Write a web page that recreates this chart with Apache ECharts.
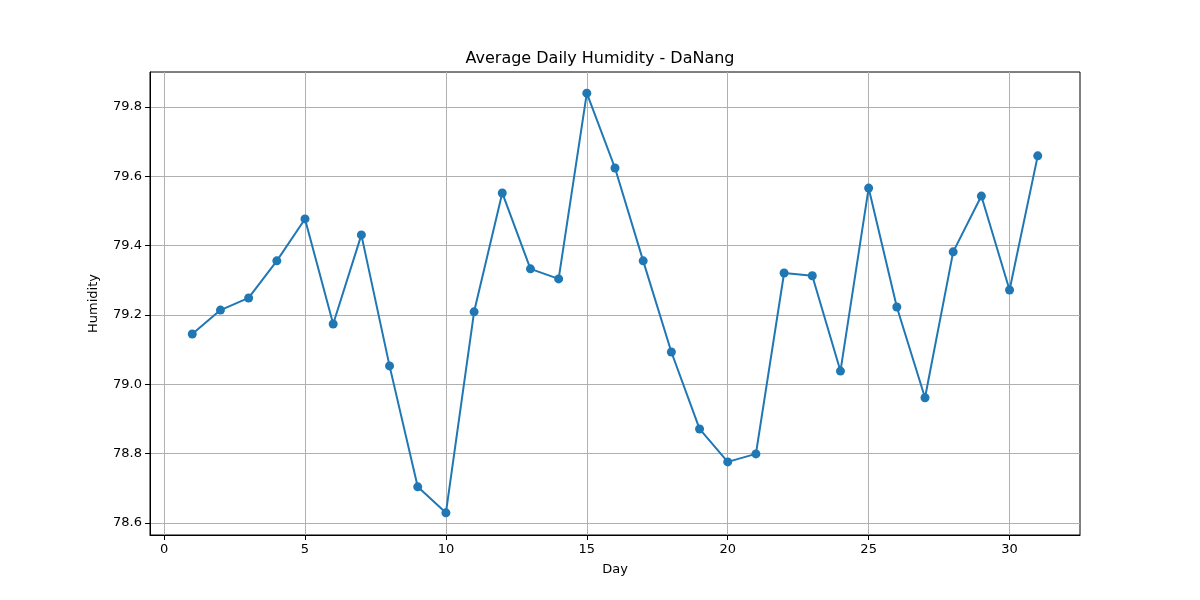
<!DOCTYPE html>
<html>
<head>
<meta charset="utf-8">
<script src="https://cdn.jsdelivr.net/npm/echarts@6/dist/echarts.min.js"></script>
<style>html,body{margin:0;padding:0;background:#fff}#main{width:1200px;height:600px}</style>
</head>
<body>
<div id="main"></div>
<script>
// day of month and average humidity
var days = [];
for (var d = 1; d <= 31; d++) days.push(d);
var humidity = [79.145, 79.214, 79.249, 79.356, 79.477, 79.174, 79.431, 79.053, 78.704, 78.629,
    79.209, 79.552, 79.333, 79.304, 79.840, 79.624, 79.356, 79.093, 78.871, 78.776,
    78.799, 79.321, 79.313, 79.038, 79.566, 79.223, 78.961, 79.382, 79.543, 79.272, 79.659];
var xTicks = [0, 5, 10, 15, 20, 25, 30];
var yTicks = [78.6, 78.8, 79.0, 79.2, 79.4, 79.6, 79.8];

var chart = echarts.init(document.getElementById('main'));
var font = 'DejaVu Sans';
var points = days.map(function (d, i) { return [d, humidity[i]]; });

chart.setOption({
    animation: false,
    title: {
        text: 'Average Daily Humidity - DaNang', left: 'center', top: 46,
        textStyle: { fontFamily: font, fontSize: 16, fontWeight: 'normal', color: '#000' }
    },
    grid: { left: 150, right: 120, top: 72, bottom: 65, show: true, borderColor: '#000', borderWidth: 1 },
    xAxis: {
        type: 'value', min: -0.5, max: 32.5,
        name: 'Day', nameLocation: 'middle', nameGap: 28,
        nameTextStyle: { fontFamily: font, fontSize: 13, color: '#000' },
        axisLine: { onZero: false, lineStyle: { color: '#000' } },
        axisTick: { show: true, customValues: xTicks, lineStyle: { color: '#000' } },
        axisLabel: { customValues: xTicks, fontFamily: font, fontSize: 13, color: '#000' },
        splitLine: { show: true, lineStyle: { color: '#b0b0b0' } }
    },
    yAxis: {
        type: 'value', min: 78.565, max: 79.901,
        name: 'Humidity', nameLocation: 'middle', nameGap: 50,
        nameTextStyle: { fontFamily: font, fontSize: 13, color: '#000' },
        axisLine: { show: true, onZero: false, lineStyle: { color: '#000' } },
        axisTick: { show: true, customValues: yTicks, lineStyle: { color: '#000' } },
        axisLabel: { customValues: yTicks, fontFamily: font, fontSize: 13, color: '#000',
            formatter: function (v) { return v.toFixed(1); } },
        splitLine: { show: true, lineStyle: { color: '#b0b0b0' } }
    },
    series: [{
        type: 'line', data: points, symbol: 'circle', symbolSize: 9,
        itemStyle: { color: '#1f77b4' }, lineStyle: { color: '#1f77b4', width: 2 }
    }]
});
</script>
</body>
</html>
